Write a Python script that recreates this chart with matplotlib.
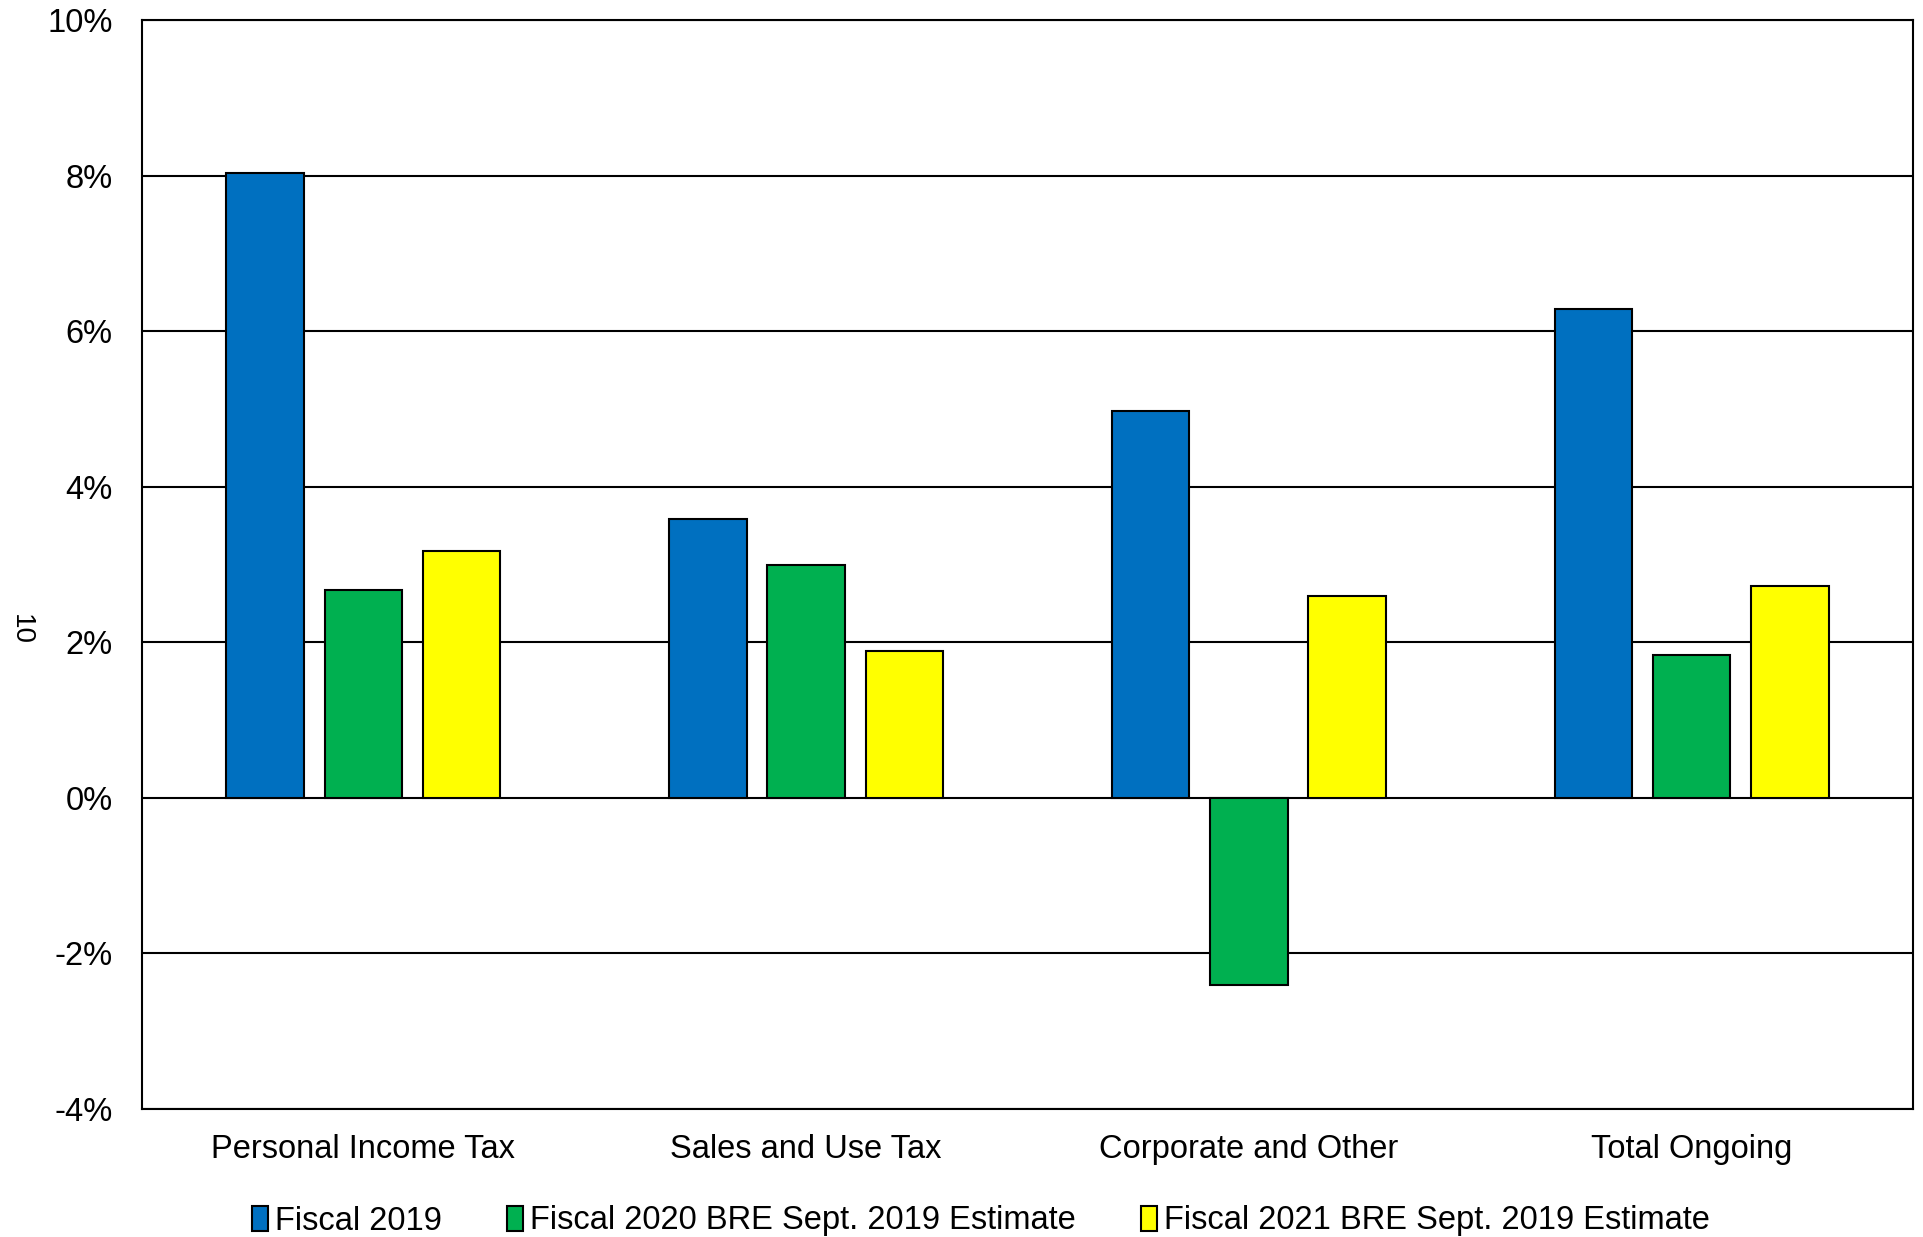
import matplotlib.pyplot as plt
import numpy as np
from matplotlib.ticker import FuncFormatter

plt.rcParams['font.family'] = ['Liberation Sans', 'DejaVu Sans']

categories = ["Personal Income Tax", "Sales and Use Tax", "Corporate and Other", "Total Ongoing"]
series_names = ["Fiscal 2019", "Fiscal 2020 BRE Sept. 2019 Estimate",
                "Fiscal 2021 BRE Sept. 2019 Estimate"]
fy2019 = [8.03, 3.58, 4.97, 6.28]
fy2020 = [2.67, 3.00, -2.41, 1.84]
fy2021 = [3.17, 1.89, 2.60, 2.73]
colors = ["#0070C0", "#00B050", "#FFFF00"]

fig = plt.figure(figsize=(19.23, 12.37), dpi=100)
ax = fig.add_axes([142 / 1923, 1 - 1109 / 1237, (1913 - 142) / 1923, (1109 - 20) / 1237])

x = np.arange(len(categories))
width = 0.175
step = 0.222
for i, (vals, name, c) in enumerate(zip([fy2019, fy2020, fy2021], series_names, colors)):
    ax.bar(x + (i - 1) * step, vals, width, color=c, edgecolor="black",
           linewidth=1.5, label=name, zorder=3)

ax.set_xlim(-0.5, 3.5)
ax.set_ylim(-4, 10)
ax.set_yticks(np.arange(-4, 11, 2))
ax.yaxis.set_major_formatter(FuncFormatter(lambda v, p: f"{v:.0f}%"))
ax.grid(axis="y", color="black", linewidth=1.5, zorder=0)
ax.set_xticks(x)
ax.set_xticklabels(categories)
ax.tick_params(axis="both", length=0, labelsize=23.5)
ax.tick_params(axis="x", pad=18)
ax.tick_params(axis="y", pad=21)
for s in ax.spines.values():
    s.set_linewidth(1.5)

ax.set_ylabel("10", rotation=270, fontsize=20)
ax.yaxis.set_label_coords(-0.076, 0.44)

fig.legend(loc="center", bbox_to_anchor=(0.51, 1 - 1221 / 1237), ncol=3, frameon=False,
           fontsize=23.5, handlelength=0.5, handleheight=0.8, handletextpad=0.2,
           columnspacing=2.0)

fig.savefig("out.png", dpi=100)
